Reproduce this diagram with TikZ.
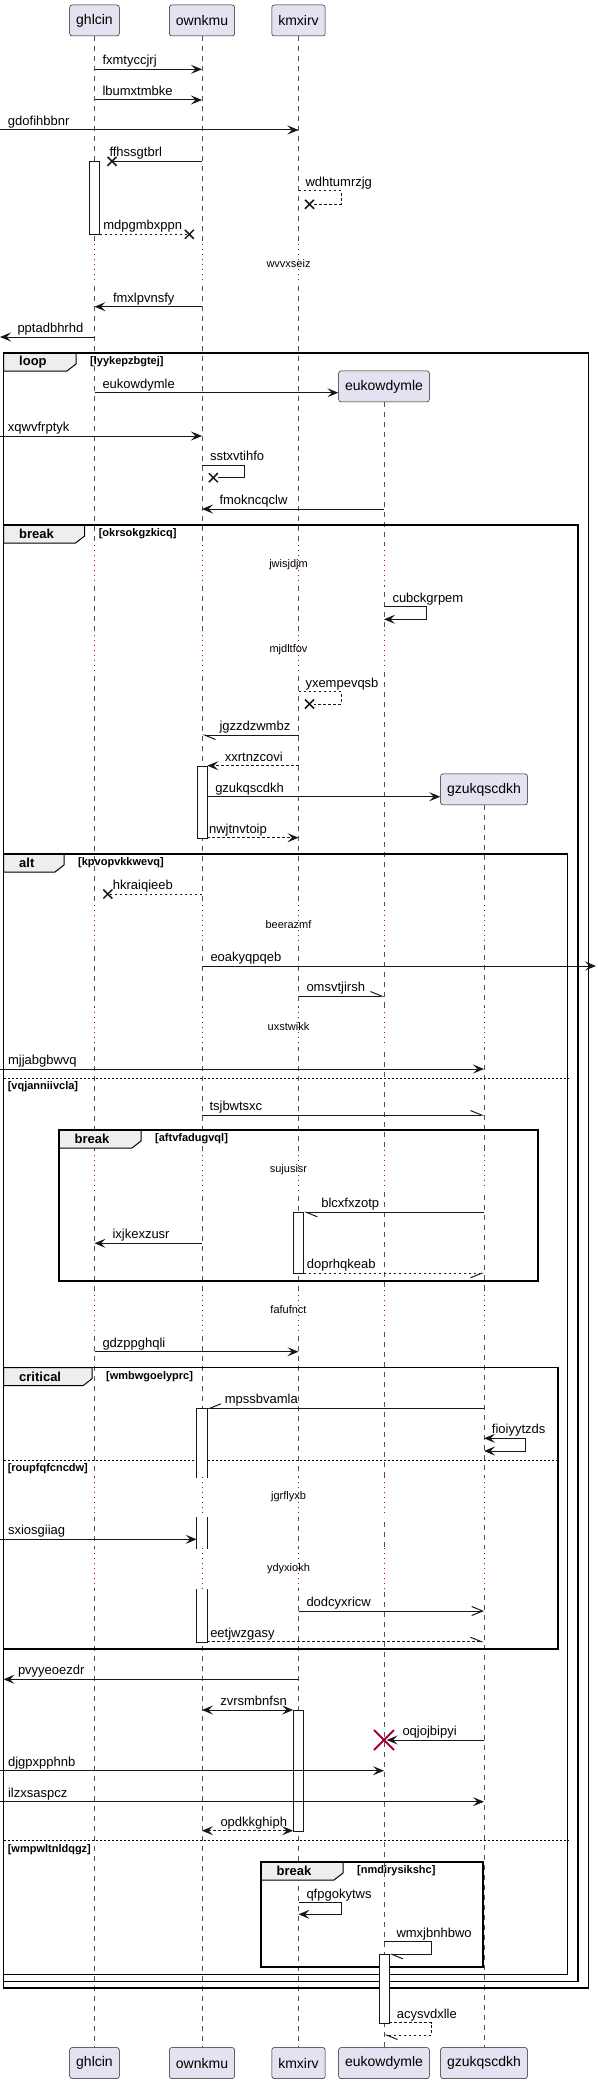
\documentclass[tikz,border=0pt]{standalone}
\usepackage{fontspec}
\setmainfont{Liberation Sans}
\usetikzlibrary{arrows.meta,calc,positioning}

\definecolor{partfill}{HTML}{E2E2F0}
\definecolor{ink}{HTML}{181818}
\definecolor{pausered}{HTML}{A80036}
\definecolor{tabfill}{HTML}{EEEEEE}

\tikzset{
  part/.style={rectangle, rounded corners=2.5pt, draw=ink, fill=partfill, line width=0.5pt,
    minimum height=31pt, inner xsep=6.5pt, font=\fontsize{14}{16}\selectfont},
  life/.style={draw=ink!75, line width=0.5pt, dash pattern=on 5pt off 5pt},
  pauseline/.style={draw=pausered, line width=1pt, dash pattern=on 1pt off 4pt},
  pausetxt/.style={font=\fontsize{11}{13}\selectfont, inner sep=0},
  msg/.style={draw=ink, line width=1pt},
  reply/.style={msg, dash pattern=on 2.5pt off 2.5pt},
  lbl/.style={font=\fontsize{13}{15}\selectfont, anchor=base west, inner sep=0, yshift=4.5pt},
  actbar/.style={rectangle, draw=ink, fill=white, line width=0.7pt, minimum width=10pt,
    inner sep=0, anchor=north},
  frame/.style={draw=black, line width=1.5pt},
  frametab/.style={draw=black, fill=tabfill, line width=1pt},
  frkey/.style={font=\fontsize{13}{15}\selectfont\bfseries, anchor=west, inner sep=0},
  frcond/.style={font=\fontsize{11}{13}\selectfont\bfseries, anchor=west, inner sep=0},
  elseline/.style={draw=black, line width=1pt, dash pattern=on 2pt off 2pt},
  opentip/.tip={Straight Barb[length=11pt,width=9pt]},
  halfL/.tip={Straight Barb[length=11pt,width=9pt,left]},
  halfR/.tip={Straight Barb[length=11pt,width=9pt,right]},
  xend/.pic={\draw[ink, line width=1.5pt] (-4.5,-4.5) -- (4.5,4.5) (-4.5,4.5) -- (4.5,-4.5);},
  kill/.pic={\draw[pausered, line width=2pt] (-10,-10) -- (10,10) (-10,10) -- (10,-10);}
}

% name, x0, y0, x1, y1, tab right, keyword, condition
\newcommand{\seqframe}[8]{%
  \draw[frametab] (#2,#3) -- (#6,#3) -- (#6,#3+11) -- (#6-9,#3+18) -- (#2,#3+18) -- cycle;
  \draw[frame] (#2,#3) rectangle (#4,#5);
  \node[frkey] (#1-kw) at (#2+15.5,#3+9) {#7};
  \node[frcond] (#1-cond) at (#6+14,#3+9) {#8};
}

\begin{document}
\begin{tikzpicture}[x=1pt, y=-1pt, >={Stealth[length=11pt,width=9pt,inset=4.5pt]}]
  \useasboundingbox (0,0) rectangle (597,2084);
  \coordinate (lft) at (0,0);
  \coordinate (rgt) at (596,0);
  \coordinate (edge) at (3.5,0);

  % participants
  \node[part] (ghlcin) at (94.5,20.5) {ghlcin};
  \node[part] (ownkmu) at (202,20.5) {ownkmu};
  \node[part] (kmxirv) at (298.5,20.5) {kmxirv};
  \node[part] (eukowdymle) at (384,386.4) {eukowdymle};
  \node[part] (gzukqscdkh) at (484,789.4) {gzukqscdkh};
  \foreach \p in {ghlcin,ownkmu,kmxirv,eukowdymle,gzukqscdkh} {
    \node[part] (\p-bot) at (\p |- 0,2063) {\p};
    \draw[life] (\p.south) -- (\p-bot.north);
  }

  % pauses
  \foreach \ya/\yb/\txt in {244/284/wvvxseiz} {
    \foreach \p in {ghlcin,ownkmu,kmxirv} {
      \draw[white, line width=2.5pt] (\p |- 0,\ya) -- (\p |- 0,\yb);
      \draw[pauseline] (\p |- 0,\ya) -- (\p |- 0,\yb);
    }
    \node[pausetxt] (pause-\txt) at (288.5,{(\ya+\yb)/2}) {\txt};
  }
  \foreach \ya/\yb/\txt in {545/585/jwisjdjm, 630/670/mjdltfov} {
    \foreach \p in {ghlcin,ownkmu,kmxirv,eukowdymle} {
      \draw[white, line width=2.5pt] (\p |- 0,\ya) -- (\p |- 0,\yb);
      \draw[pauseline] (\p |- 0,\ya) -- (\p |- 0,\yb);
    }
    \node[pausetxt] (pause-\txt) at (288.5,{(\ya+\yb)/2}) {\txt};
  }
  \foreach \ya/\yb/\txt in {905/945/beerazmf, 1007/1047/uxstwikk, 1150/1190/sujusisr,
      1290/1330/fafufnct, 1477/1517/jgrflyxb, 1548/1589/ydyxiokh} {
    \foreach \p in {ghlcin,ownkmu,kmxirv,eukowdymle,gzukqscdkh} {
      \draw[white, line width=2.5pt] (\p |- 0,\ya) -- (\p |- 0,\yb);
      \draw[pauseline] (\p |- 0,\ya) -- (\p |- 0,\yb);
    }
    \node[pausetxt] (pause-\txt) at (288.5,{(\ya+\yb)/2}) {\txt};
  }

  % frames
  \seqframe{loop}{3.5}{353}{588.6}{1988}{76}{loop}{[lyykepzbgtej]}
  \seqframe{brk}{3.5}{525}{578}{1981.7}{84.6}{break}{[okrsokgzkicq]}
  \seqframe{alt}{3.5}{854}{567.6}{1974.5}{64}{alt}{[kpvopvkkwevq]}
  \draw[elseline] (3.5,1078) -- (567.6,1078);
  \node[frcond] (alt-else1) at (7.6,1087) {[vqjanniivcla]};
  \seqframe{brkin}{59}{1130}{538}{1281}{141}{break}{[aftvfadugvql]}
  \seqframe{crit}{3.5}{1367.7}{558}{1649}{92}{critical}{[wmbwgoelyprc]}
  \draw[elseline] (3.5,1460) -- (558,1460);
  \node[frcond] (crit-else) at (7.6,1468.3) {[roupfqfcncdw]};
  \draw[elseline] (3.5,1840) -- (567.6,1840);
  \node[frcond] (alt-else2) at (7.6,1849.3) {[wmpwltnldqgz]};
  \seqframe{brkend}{261}{1862}{483}{1967}{343}{break}{[nmdirysikshc]}

  % activations
  \node[actbar, minimum height=73pt] (act1) at (ghlcin |- 0,161.3) {};
  \node[actbar, minimum height=72pt] (act2) at (ownkmu |- 0,765.7) {};
  \node[actbar, minimum height=61pt] (act3) at (kmxirv |- 0,1212.3) {};
  \node[actbar, draw=none, minimum height=68.7pt] (act4a) at (ownkmu |- 0,1408.3) {};
  \node[actbar, draw=none, minimum height=31pt] (act4b) at (ownkmu |- 0,1517) {};
  \node[actbar, draw=none, minimum height=52.7pt] (act4c) at (ownkmu |- 0,1589) {};
  \draw[ink, line width=0.7pt] (act4a.south west) -- (act4a.north west) -- (act4a.north east) -- (act4a.south east);
  \draw[ink, line width=0.7pt] (act4b.north west) -- (act4b.south west) (act4b.north east) -- (act4b.south east);
  \draw[ink, line width=0.7pt] (act4c.north west) -- (act4c.south west) -- (act4c.south east) -- (act4c.north east);
  \node[actbar, minimum height=120.7pt] (act5) at (kmxirv |- 0,1710) {};
  \node[actbar, minimum height=69pt] (act6) at (eukowdymle |- 0,1954.3) {};

  % messages before loop
  \draw[msg,->] (ghlcin |- 0,69.3) -- (ownkmu |- 0,69.3) node[lbl,at start,xshift=7.5pt] {fxmtyccjrj};
  \draw[msg,->] (ghlcin |- 0,100) -- (ownkmu |- 0,100) node[lbl,at start,xshift=7.5pt] {lbumxtmbke};
  \draw[msg,->] (lft |- 0,130) -- (kmxirv |- 0,130) node[lbl,at start,xshift=7.5pt] {gdofihbbnr};
  \draw[msg] (ownkmu |- 0,161.3) -- ($(ghlcin |- 0,161.3)+(17.5,0)$) node[lbl,at end,xshift=-3pt] {ffhssgtbrl};
  \pic at ($(ghlcin |- 0,161.3)+(17.5,0)$) {xend};
  \draw[reply] (kmxirv |- 0,191) -- ++(42.5,0) node[lbl,at start,xshift=6.5pt] {wdhtumrzjg} -- ++(0,13.3) -- ++(-27,0);
  \pic at ($(kmxirv |- 0,204.3)+(11,0)$) {xend};
  \draw[reply] (act1.east |- 0,234.3) -- ($(ownkmu |- 0,234.3)+(-12.7,0)$) node[lbl,at start,xshift=3pt] {mdpgmbxppn};
  \pic at ($(ownkmu |- 0,234.3)+(-12.7,0)$) {xend};
  \draw[msg,->] (ownkmu |- 0,306.7) -- (ghlcin |- 0,306.7) node[lbl,at end,xshift=18pt] {fmxlpvnsfy};
  \draw[msg,->] (ghlcin |- 0,337) -- (lft |- 0,337) node[lbl,at end,xshift=17pt] {pptadbhrhd};

  % loop
  \draw[msg,->] (ghlcin |- 0,392.7) -- (eukowdymle.west |- 0,392.7) node[lbl,at start,xshift=7.5pt] {eukowdymle};
  \draw[msg,->] (lft |- 0,436) -- (ownkmu |- 0,436) node[lbl,at start,xshift=7.5pt] {xqwvfrptyk};
  \draw[msg] (ownkmu |- 0,465) -- ++(42.6,0) node[lbl,at start,xshift=7.5pt] {sstxvtihfo} -- ++(0,12.7) -- ++(-27,0);
  \pic at ($(ownkmu |- 0,477.7)+(11.3,0)$) {xend};
  \draw[msg,->] (eukowdymle |- 0,509) -- (ownkmu |- 0,509) node[lbl,at end,xshift=17pt] {fmokncqclw};

  % break
  \draw[msg,->] (eukowdymle |- 0,606.7) -- ++(42.7,0) node[lbl,at start,xshift=8pt] {cubckgrpem} -- ++(0,12.6) -- ++(-42.7,0);
  \draw[reply] (kmxirv |- 0,691.7) -- ++(42.5,0) node[lbl,at start,xshift=6.5pt] {yxempevqsb} -- ++(0,12.3) -- ++(-27,0);
  \pic at ($(kmxirv |- 0,704)+(11,0)$) {xend};
  \draw[msg,-{halfL}] (kmxirv |- 0,735) -- (ownkmu |- 0,735) node[lbl,at end,xshift=17pt] {jgzzdzwmbz};
  \draw[reply,->] (kmxirv |- 0,765.7) -- (act2.east |- 0,765.7) node[lbl,at end,xshift=17pt] {xxrtnzcovi};
  \draw[msg,->] (act2.east |- 0,796.7) -- (gzukqscdkh.west |- 0,796.7) node[lbl,at start,xshift=7.4pt] {gzukqscdkh};
  \draw[reply,->] (act2.east |- 0,837.7) -- (kmxirv |- 0,837.7) node[lbl,at start,xshift=1.2pt] {nwjtnvtoip};

  % alt
  \draw[reply] (ownkmu |- 0,894) -- ($(ghlcin |- 0,894)+(13.3,0)$) node[lbl,at end,xshift=4.6pt] {hkraiqieeb};
  \pic at ($(ghlcin |- 0,894)+(13.3,0)$) {xend};
  \draw[msg,->] (ownkmu |- 0,966) -- (rgt |- 0,966) node[lbl,at start,xshift=8pt] {eoakyqpqeb};
  \draw[msg,-{halfL}] (kmxirv |- 0,996) -- (eukowdymle |- 0,996) node[lbl,at start,xshift=7.5pt] {omsvtjirsh};
  \draw[msg,->] (lft |- 0,1069) -- (gzukqscdkh |- 0,1069) node[lbl,at start,xshift=7.6pt] {mjjabgbwvq};
  \draw[msg,-{halfL}] (ownkmu |- 0,1115) -- (gzukqscdkh |- 0,1115) node[lbl,at start,xshift=7pt] {tsjbwtsxc};
  \draw[msg,-{halfL}] (gzukqscdkh |- 0,1212.3) -- (act3.east |- 0,1212.3) node[lbl,at end,xshift=17pt] {blcxfxzotp};
  \draw[msg,->] (ownkmu |- 0,1243.3) -- (ghlcin |- 0,1243.3) node[lbl,at end,xshift=17.5pt] {ixjkexzusr};
  \draw[reply,-{halfR}] (act3.east |- 0,1273.3) -- (gzukqscdkh |- 0,1273.3) node[lbl,at start,xshift=2.5pt] {doprhqkeab};
  \draw[msg,->] (ghlcin |- 0,1351.7) -- (kmxirv |- 0,1351.7) node[lbl,at start,xshift=7.5pt] {gdzppghqli};

  % critical
  \draw[msg,-{halfR}] (gzukqscdkh |- 0,1408.3) -- (act4a.east |- 0,1408.3) node[lbl,at end,xshift=17pt] {mpssbvamla};
  \draw[msg,<->] (gzukqscdkh |- 0,1438.3) -- ++(41.7,0) node[lbl,at start,xshift=7.4pt] {fioiyytzds} -- ++(0,12.7) -- ++(-41.7,0);
  \draw[msg,->] (lft |- 0,1539.3) -- (act4b.west |- 0,1539.3) node[lbl,at start,xshift=7.6pt] {sxiosgiiag};
  \draw[msg,-{opentip}] (kmxirv |- 0,1611) -- (gzukqscdkh |- 0,1611) node[lbl,at start,xshift=7.5pt] {dodcyxricw};
  \draw[reply,-{halfL}] (act4c.east |- 0,1641.7) -- (gzukqscdkh |- 0,1641.7) node[lbl,at start,xshift=2.4pt] {eetjwzgasy};

  % after critical
  \draw[msg,->] (kmxirv |- 0,1679.3) -- (edge |- 0,1679.3) node[lbl,at end,xshift=14pt] {pvyyeoezdr};
  \draw[msg,<->] (ownkmu |- 0,1710) -- (act5.west |- 0,1710) node[lbl,at start,xshift=17.8pt] {zvrsmbnfsn};
  \draw[msg,->] (gzukqscdkh |- 0,1740) -- ($(eukowdymle |- 0,1740)+(2.7,0)$) node[lbl,at end,xshift=15.3pt] {oqjojbipyi};
  \pic at (eukowdymle |- 0,1740) {kill};
  \draw[msg,->] (lft |- 0,1770.7) -- (eukowdymle |- 0,1770.7) node[lbl,at start,xshift=7.6pt] {djgpxpphnb};
  \draw[msg,->] (lft |- 0,1801.7) -- (gzukqscdkh |- 0,1801.7) node[lbl,at start,xshift=7.6pt] {ilzxsaspcz};
  \draw[reply,<->] (ownkmu |- 0,1830.7) -- (act5.west |- 0,1830.7) node[lbl,at start,xshift=18pt] {opdkkghiph};

  % last break
  \draw[msg,->] (kmxirv |- 0,1902.7) -- ++(42.5,0) node[lbl,at start,xshift=7.5pt] {qfpgokytws} -- ++(0,11.6) -- ++(-42.5,0);
  \draw[msg,-{halfL}] (eukowdymle |- 0,1941.7) -- ++(47.6,0) node[lbl,at start,xshift=12pt] {wmxjbnhbwo} -- ++(0,12.6) -- (act6.east |- 0,1954.3);
  \draw[reply,-{halfL}] (act6.east |- 0,2022.7) -- ++(42.3,0) node[lbl,at start,xshift=7pt] {acysvdxlle} -- ++(0,12.3) -- (eukowdymle |- 0,2035);
\end{tikzpicture}
\end{document}
